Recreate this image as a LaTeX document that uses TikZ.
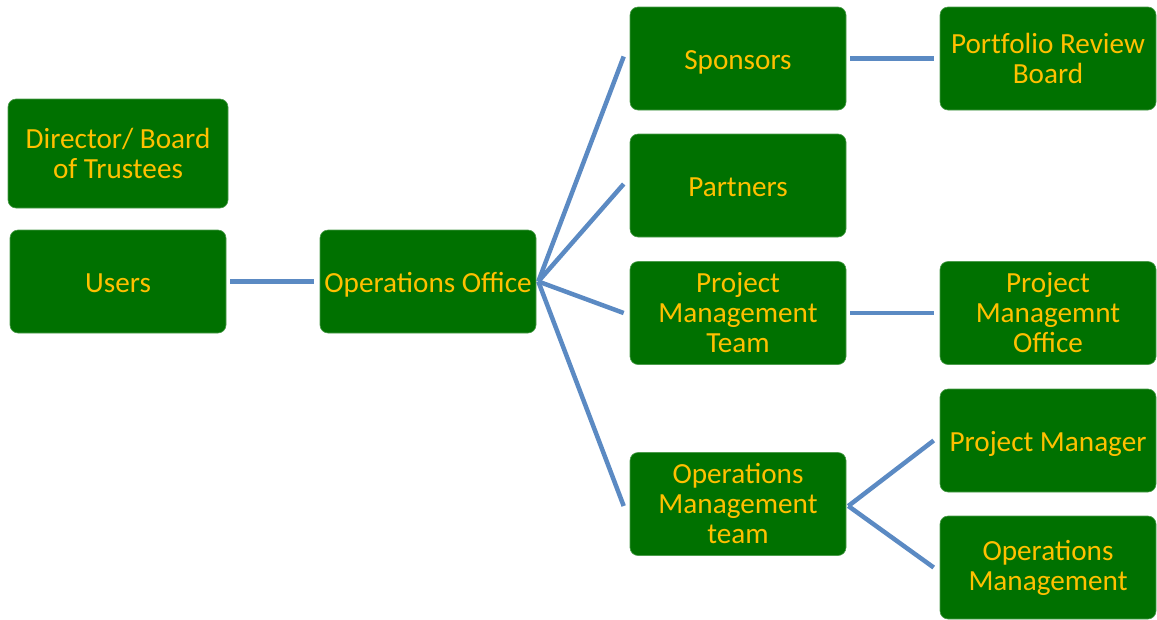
\documentclass[tikz,border=0pt]{standalone}
\usepackage{fontspec}
\setmainfont{Carlito}
\definecolor{boxgreen}{RGB}{0,113,0}
\definecolor{txtgold}{RGB}{255,192,0}
\definecolor{linkblue}{RGB}{91,138,195}
\begin{document}
\begin{tikzpicture}[x=1pt,y=-1pt,
  box/.style={fill=boxgreen, draw=boxgreen!70!white, line width=0.6pt, rounded corners=8pt,
    minimum width=216pt, minimum height=103pt, inner sep=0pt, text=txtgold,
    align=center, font=\fontsize{29.2}{30}\selectfont},
  oneline/.style={text height=22.5pt, text depth=0pt},
  link/.style={draw=linkblue, line width=4.5pt}]
\useasboundingbox (0,0) rectangle (1157,619);
\node[box, minimum width=220pt, minimum height=109pt] (dir) at (118,153.5) {Director/ Board\\of Trustees};
\node[box, oneline] (users) at (118,281.5) {Users};
\node[box, oneline] (oo) at (428,281.5) {Operations Office};
\node[box, oneline] (sp) at (738,58.5) {Sponsors};
\node[box, oneline] (pa) at (738,185.5) {Partners};
\node[box] (pmt) at (738,313) {Project\\Management\\Team};
\node[box] (omt) at (738,504) {Operations\\Management\\team};
\node[box] (prb) at (1048,58.5) {Port\kern0ptfolio Review\\Board};
\node[box] (pmo) at (1048,313) {Project\\Managemnt\\Office};
\node[box, oneline] (pm) at (1048,440.5) {Project Manager};
\node[box] (om) at (1048,567.5) {Operations\\Management};
\draw[link] ([xshift=4pt]users.east) -- ([xshift=-6pt]oo.west);
\draw[link] ([xshift=2pt]oo.east) -- ([xshift=-6pt,yshift=2pt]sp.west);
\draw[link] ([xshift=2pt]oo.east) -- ([xshift=-6pt,yshift=1.5pt]pa.west);
\draw[link] ([xshift=2pt]oo.east) -- ([xshift=-6pt]pmt.west);
\draw[link] ([xshift=2pt]oo.east) -- ([xshift=-6pt,yshift=-2pt]omt.west);
\draw[link] ([xshift=4pt]sp.east) -- ([xshift=-6pt]prb.west);
\draw[link] ([xshift=4pt]pmt.east) -- ([xshift=-6pt]pmo.west);
\draw[link] ([xshift=2pt,yshift=-2pt]omt.east) -- ([xshift=-6pt]pm.west);
\draw[link] ([xshift=2pt,yshift=-2pt]omt.east) -- ([xshift=-6pt]om.west);
\end{tikzpicture}
\end{document}
